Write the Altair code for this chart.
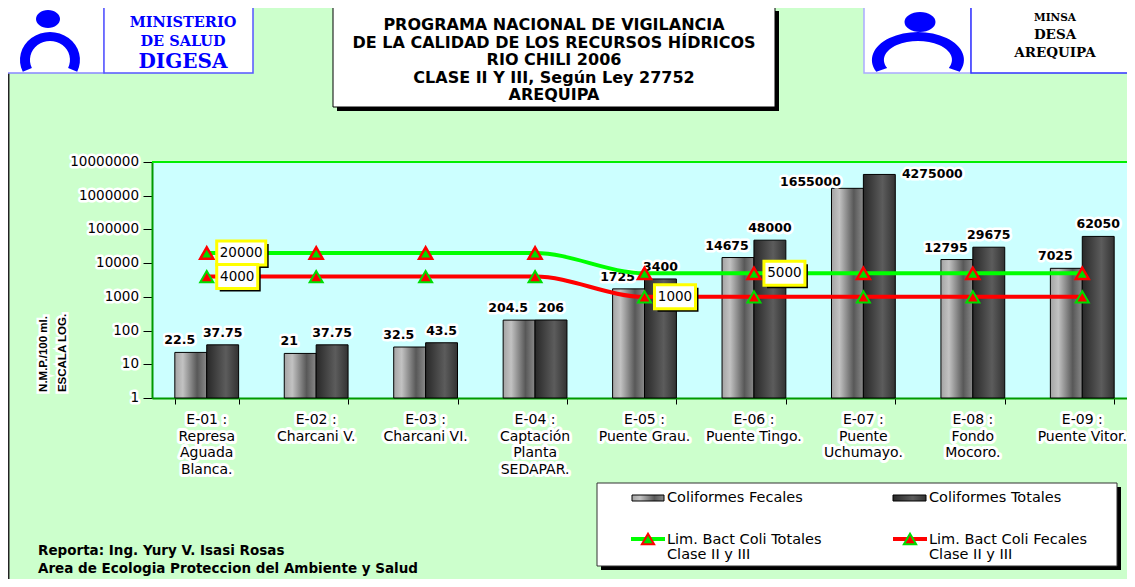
import math
import altair as alt
import pandas as pd

# ---------------- data ----------------
categories = ["E-01", "E-02", "E-03", "E-04", "E-05", "E-06", "E-07", "E-08", "E-09"]
station_labels = [
    "E-01 :\nRepresa\nAguada\nBlanca.",
    "E-02 :\nCharcani V.",
    "E-03 :\nCharcani VI.",
    "E-04 :\nCaptación\nPlanta\nSEDAPAR.",
    "E-05 :\nPuente Grau.",
    "E-06 :\nPuente Tingo.",
    "E-07 :\nPuente\nUchumayo.",
    "E-08 :\nFondo\nMocoro.",
    "E-09 :\nPuente Vitor.",
]
coliformes_fecales = [22.5, 21, 32.5, 204.5, 1725, 14675, 1655000, 12795, 7025]
coliformes_totales = [37.75, 37.75, 43.5, 206, 3400, 48000, 4275000, 29675, 62050]
lim_coli_totales = [20000, 20000, 20000, 20000, 5000, 5000, 5000, 5000, 5000]
lim_coli_fecales = [4000, 4000, 4000, 4000, 1000, 1000, 1000, 1000, 1000]
lim_labelled_totales = ["E-01", "E-06"]
lim_labelled_fecales = ["E-01", "E-05"]
y_ticks = [1, 10, 100, 1000, 10000, 100000, 1000000, 10000000]

title_lines = [
    "PROGRAMA NACIONAL DE VIGILANCIA",
    "DE LA CALIDAD DE LOS RECURSOS HÍDRICOS",
    "RIO CHILI 2006",
    "CLASE II Y III, Según Ley 27752",
    "AREQUIPA",
]
serie_fec = "Coliformes Fecales"
serie_tot = "Coliformes Totales"
lim_tot_name = "Lim. Bact Coli Totales Clase II y III"
lim_fec_name = "Lim. Bact Coli Fecales Clase II y III"

bars_df = pd.DataFrame({
    "cat": categories * 2,
    "serie": [serie_fec] * len(categories) + [serie_tot] * len(categories),
    "valor": coliformes_fecales + coliformes_totales,
})
lims_df = pd.DataFrame({
    "cat": categories * 2,
    "serie": [lim_tot_name] * len(categories) + [lim_fec_name] * len(categories),
    "valor": lim_coli_totales + lim_coli_fecales,
    "etiqueta": [c in lim_labelled_totales for c in categories]
    + [c in lim_labelled_fecales for c in categories],
})
labels_df = pd.DataFrame({"cat": categories, "label": station_labels})
ticks_df = pd.DataFrame({"v": y_ticks, "t": [str(t) for t in y_ticks]})
one = pd.DataFrame({"k": [0]})

# ---------------- layout helpers ----------------
W, H = 975, 236
PAD_L, PAD_T = 144, 154
OX, OY = 8 + PAD_L, 8 + PAD_T  # page position of plot origin


def X(px):
    return px - OX


def Y(py):
    return py - OY


SANS = "DejaVu Sans"
SERIF = "DejaVu Serif"
ARIAL = "Liberation Sans"

x_scale = alt.Scale(domain=categories, range=[0, 985], paddingInner=0.417, paddingOuter=0.2085)
y_scale = alt.Scale(type="log", domain=[1, 10000000], nice=False)
off_scale = alt.Scale(domain=[serie_fec, serie_tot], paddingInner=0, paddingOuter=0)

x_axis = alt.Axis(title=None, labels=False, grid=False, domainColor="#009900", domainWidth=2,
                  tickColor="black", tickSize=6, tickBand="extent")
y_axis = alt.Axis(title=None, labels=False, grid=False, values=y_ticks, domainColor="#009900",
                  domainWidth=2, tickColor="black", tickSize=9)


def xenc():
    return alt.X("cat:N", scale=x_scale, axis=x_axis)


def yenc(field="valor"):
    return alt.Y(f"{field}:Q", scale=y_scale, axis=y_axis)


def offenc():
    return alt.XOffset("serie:N", scale=off_scale)


def halo_pair(base, enc, halo=5, **mk):
    h = base.mark_text(fill="white", stroke="white", strokeWidth=halo, strokeJoin="round", **mk).encode(**enc)
    t = base.mark_text(fill="black", **mk).encode(**enc)
    return [h, t]


def rect(x1, y1, x2, y2, **kw):
    return alt.Chart(one).mark_rect(**kw).encode(
        x=alt.value(X(x1)), x2=alt.value(X(x2)), y=alt.value(Y(y1)), y2=alt.value(Y(y2)))


def rule(x1, y1, x2, y2, **kw):
    return alt.Chart(one).mark_rule(**kw).encode(
        x=alt.value(X(x1)), x2=alt.value(X(x2)), y=alt.value(Y(y1)), y2=alt.value(Y(y2)))


def text(x, y, t, **kw):
    return alt.Chart(one).mark_text(text=t, **kw).encode(x=alt.value(X(x)), y=alt.value(Y(y)))


def shape(x, y, path, size=4, **kw):
    return alt.Chart(one).mark_point(shape=path, size=size, filled=True, opacity=1, **kw).encode(
        x=alt.value(X(x)), y=alt.value(Y(y)))


def horseshoe(rxo, ryo, rxi, ryi, ang=115):
    s, c = math.sin(math.radians(ang)), math.cos(math.radians(ang))
    xo, yo = rxo * s, -ryo * c
    xi, yi = rxi * s, -ryi * c
    return (f"M{-xo:.1f},{yo:.1f}A{rxo},{ryo} 0 1 1 {xo:.1f},{yo:.1f}"
            f"L{xi:.1f},{yi:.1f}A{rxi},{ryi} 0 1 0 {-xi:.1f},{yi:.1f}Z")


def ellipse(rx, ry):
    return f"M{-rx},0A{rx},{ry} 0 1 1 {rx},0A{rx},{ry} 0 1 1 {-rx},0Z"


grad_fec = alt.Gradient(gradient="linear", x1=0, x2=1, y1=0, y2=0, stops=[
    alt.GradientStop(offset=0, color="#a4a4a4"),
    alt.GradientStop(offset=0.25, color="#c2c2c2"),
    alt.GradientStop(offset=0.7, color="#585858"),
    alt.GradientStop(offset=1, color="#8a8a8a"),
])
grad_tot = alt.Gradient(gradient="linear", x1=0, x2=1, y1=0, y2=0, stops=[
    alt.GradientStop(offset=0, color="#282828"),
    alt.GradientStop(offset=0.6, color="#5c5c5c"),
    alt.GradientStop(offset=1, color="#333333"),
])

layers = []

# frame line on the left
layers.append(rule(8.75, 73, 8.75, 600, color="#222222", strokeWidth=1.5))
# top border of plot
layers.append(alt.Chart(one).mark_rule(color="#00EE00", strokeWidth=2).encode(
    x=alt.value(0), x2=alt.value(985), y=alt.value(0)))

# ---------------- bars ----------------
bars = alt.Chart(bars_df)
layers.append(bars.transform_filter(alt.datum.serie == serie_fec).mark_bar(
    fill=grad_fec, stroke="black", strokeWidth=1).encode(
    x=xenc(), xOffset=offenc(), y=yenc(), y2=alt.Y2Datum(1)))
layers.append(bars.transform_filter(alt.datum.serie == serie_tot).mark_bar(
    fill=grad_tot, stroke="black", strokeWidth=1).encode(
    x=xenc(), xOffset=offenc(), y=yenc(), y2=alt.Y2Datum(1)))

# bar value labels
lab_enc = dict(x=xenc(), xOffset=offenc(), y=yenc(), text=alt.Text("valor:Q", format="~f"))
lab_font = dict(font=SANS, fontSize=12.5, fontWeight="bold")
special = "E-07"
layers += halo_pair(bars.transform_filter(f"datum.serie == '{serie_fec}' && datum.cat != '{special}'"),
                    lab_enc, dx=-11, dy=-12, **lab_font)
layers += halo_pair(bars.transform_filter(f"datum.serie == '{serie_tot}' && datum.cat != '{special}'"),
                    lab_enc, dx=0, dy=-12, **lab_font)
layers += halo_pair(bars.transform_filter(f"datum.serie == '{serie_fec}' && datum.cat == '{special}'"),
                    lab_enc, dx=-37, dy=-6, **lab_font)
layers += halo_pair(bars.transform_filter(f"datum.serie == '{serie_tot}' && datum.cat == '{special}'"),
                    lab_enc, dx=53, dy=0, **lab_font)

# ---------------- limit lines ----------------
lims = alt.Chart(lims_df)
layers.append(lims.transform_filter(alt.datum.serie == lim_tot_name).mark_line(
    interpolate="monotone", color="#00FF00", strokeWidth=4).encode(x=xenc(), y=yenc()))
layers.append(lims.transform_filter(alt.datum.serie == lim_fec_name).mark_line(
    interpolate="monotone", color="#FF0000", strokeWidth=4).encode(x=xenc(), y=yenc()))
layers.append(lims.transform_filter(alt.datum.serie == lim_tot_name).mark_point(
    shape="triangle-up", size=170, filled=True, fill="#00DD00", stroke="#FF0000",
    strokeWidth=2.5, opacity=1).encode(x=xenc(), y=yenc()))
layers.append(lims.transform_filter(alt.datum.serie == lim_fec_name).mark_point(
    shape="triangle-up", size=170, filled=True, fill="#FF0000", stroke="#00DD00",
    strokeWidth=2, opacity=1).encode(x=xenc(), y=yenc()))

# limit value boxes
for cond, w in (("datum.valor >= 10000", 49), ("datum.valor < 10000", 41)):
    base = lims.transform_filter(f"datum.etiqueta && {cond}")
    enc = dict(x=xenc(), y=yenc())
    layers.append(base.mark_point(shape=f"M13,-9H{13 + w}V15H13Z", size=4, filled=True,
                                  fill="black", opacity=1).encode(**enc))
    layers.append(base.mark_point(shape=f"M10,-12H{10 + w}V12H10Z", size=4, filled=True,
                                  fill="white", stroke="#FFFF00", strokeWidth=3,
                                  opacity=1).encode(**enc))
    layers.append(base.mark_text(font=SANS, fontSize=13.5, fill="black", dx=10 + w / 2).encode(
        text=alt.Text("valor:Q", format="d"), **enc))

# ---------------- axis labels ----------------
layers += halo_pair(alt.Chart(ticks_df),
                    dict(x=alt.value(-13), y=yenc("v"), text="t:N"),
                    align="right", font=SANS, fontSize=13.5)
layers += halo_pair(alt.Chart(labels_df),
                    dict(x=xenc(), y=alt.value(262), text="label:N"),
                    halo=6, align="center", baseline="alphabetic", lineBreak="\n",
                    lineHeight=16.5, font=SANS, fontSize=14)
for (tx, ty, tt) in ((44, 354, "N.M.P./100 ml."), (63, 353, "ESCALA LOG.")):
    layers.append(text(tx, ty, tt, angle=270, font=ARIAL, fontSize=11.5, fontWeight="bold",
                       fill="white", stroke="white", strokeWidth=5))
    layers.append(text(tx, ty, tt, angle=270, font=ARIAL, fontSize=11.5, fontWeight="bold",
                       fill="black"))

# ---------------- legend ----------------
layers.append(rect(601, 487, 1121, 570, fill="black"))
layers.append(rect(597, 483, 1117, 566, fill="white", stroke="#333333", strokeWidth=1))
layers.append(rect(632, 495, 664, 501, fill=grad_fec, stroke="black", strokeWidth=1))
layers.append(rect(893, 495, 926, 501, fill=grad_tot, stroke="black", strokeWidth=1))
leg_font = dict(font=SANS, fontSize=14.5, fill="black", align="left")
layers.append(text(667, 498, serie_fec, **leg_font))
layers.append(text(929, 498, serie_tot, **leg_font))
layers.append(rule(631, 539, 665, 539, color="#00FF00", strokeWidth=4))
layers.append(rule(893, 539, 927, 539, color="#FF0000", strokeWidth=4))
layers.append(shape(648, 539, "triangle-up", size=150, fill="#00DD00", stroke="#FF0000", strokeWidth=2))
layers.append(shape(910, 539, "triangle-up", size=150, fill="#FF0000", stroke="#00DD00", strokeWidth=2))
layers.append(text(667, 544, ["Lim. Bact Coli Totales", "Clase II y III"], baseline="alphabetic",
                   lineHeight=14.5, **leg_font))
layers.append(text(929, 544, ["Lim. Bact Coli Fecales", "Clase II y III"], baseline="alphabetic",
                   lineHeight=14.5, **leg_font))

# ---------------- footer ----------------
foot_font = dict(font=SANS, fontSize=13.5, fontWeight="bold", fill="black", align="left")
layers.append(text(38, 551, "Reporta: Ing. Yury V. Isasi Rosas", **foot_font))
layers.append(text(38, 569, "Area de Ecologia Proteccion del Ambiente y Salud", **foot_font))

# ---------------- title box ----------------
layers.append(rect(337, 11, 779, 111, fill="black"))
layers.append(rect(333, 7, 775, 107, fill="white", stroke="black", strokeWidth=1))
layers.append(text(554, 30, title_lines, align="center", baseline="alphabetic", lineHeight=17.5,
                   font=SANS, fontSize=16, fontWeight="bold", fill="black"))

# ---------------- logos ----------------
layers.append(rect(7, 7, 104, 73, fill="white", stroke="#8888FF", strokeWidth=1.5))
layers.append(rect(104, 7, 253, 73, fill="white", stroke="#5555FF", strokeWidth=1.5))
layers.append(shape(50, 60, horseshoe(30, 28, 20, 19), fill="#0000FF"))
layers.append(shape(48, 19, ellipse(12, 9), fill="#0000FF"))
logo_font = dict(font=SERIF, fontWeight="bold", fill="#0000FF", align="center")
layers.append(text(183, 23, "MINISTERIO", fontSize=14.5, **logo_font))
layers.append(text(183, 42, "DE SALUD", fontSize=14.5, **logo_font))
layers.append(text(183, 62, "DIGESA", fontSize=20, **logo_font))

layers.append(rect(864, 7, 971, 73, fill="white", stroke="#AAAAFF", strokeWidth=1.5))
layers.append(rect(971, 7, 1133, 73, fill="white", stroke="#3333FF", strokeWidth=1.5))
layers.append(shape(918, 60, horseshoe(46, 28, 34, 19), fill="#0000FF"))
layers.append(shape(920, 22, ellipse(15.5, 10), fill="#0000FF"))
r_font = dict(font=SERIF, fontWeight="bold", fill="black", align="center")
layers.append(text(1055, 18, "MINSA", fontSize=10.5, **r_font))
layers.append(text(1055, 35, "DESA", fontSize=13.5, **r_font))
layers.append(text(1055, 53, "AREQUIPA", fontSize=13.5, **r_font))

chart = alt.layer(*layers).properties(
    width=W, height=H,
    autosize=alt.AutoSizeParams(type="none"),
    padding={"left": PAD_L, "top": PAD_T, "right": 0, "bottom": 181},
).configure(background="#CCFFCC").configure_view(fill="#CCFFFF", stroke="transparent")

chart.save("out.html", embed_options={"renderer": "svg", "actions": False})
